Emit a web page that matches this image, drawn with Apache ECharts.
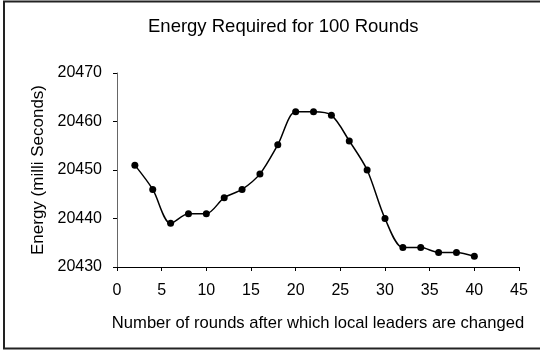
<!DOCTYPE html>
<html>
<head>
<meta charset="utf-8">
<script src="https://cdn.jsdelivr.net/npm/echarts@6/dist/echarts.min.js"></script>
<style>
  html, body { margin: 0; padding: 0; background: #fff; }
  #chart { width: 540px; height: 351px; }
</style>
</head>
<body>
<div id="chart"></div>
<script>
// rounds between leader changes
const rounds = [2, 4, 6, 8, 10, 12, 14, 16, 18, 20, 22, 24, 26, 28, 30, 32, 34, 36, 38, 40];
// energy for 100 rounds (milli seconds)
const energy = [20451, 20446, 20439, 20441, 20441, 20444.3, 20446, 20449.2, 20455.2, 20462,
                20462, 20461.3, 20456, 20450, 20440, 20434, 20434, 20433, 20433, 20432.2];
const xTicks = [0, 45, 5];      // min, max, interval
const yTicks = [20430, 20470, 10];

const font = "Liberation Sans, Arial, sans-serif";
const chart = echarts.init(document.getElementById("chart"));

chart.setOption({
  animation: false,
  title: {
    text: "Energy Required for 100 Rounds",
    left: 143,
    top: 12,
    textStyle: { fontFamily: font, fontSize: 18.5, fontWeight: "normal", color: "#000" }
  },
  graphic: [{
    type: "rect",
    shape: { x: 4, y: 1.5, width: 545, height: 347 },
    style: { fill: "none", stroke: "#222", lineWidth: 2 },
    silent: true
  }],
  grid: { left: 117, right: 21, top: 73, bottom: 84 },
  xAxis: {
    type: "value",
    min: xTicks[0],
    max: xTicks[1],
    interval: xTicks[2],
    name: "Number of rounds after which local leaders are changed",
    nameLocation: "middle",
    nameGap: 48,
    nameTextStyle: { fontFamily: font, fontSize: 16.6, color: "#000" },
    axisLine: { lineStyle: { color: "#000", width: 1 } },
    axisTick: { inside: false, length: 4, lineStyle: { color: "#000" } },
    axisLabel: { fontFamily: font, fontSize: 16, color: "#000", margin: 16 },
    splitLine: { show: false }
  },
  yAxis: {
    type: "value",
    min: yTicks[0],
    max: yTicks[1],
    interval: yTicks[2],
    name: "Energy (milli Seconds)",
    nameLocation: "middle",
    nameGap: 68,
    nameTextStyle: { fontFamily: font, fontSize: 17, color: "#000" },
    axisLine: { show: true, lineStyle: { color: "#666", width: 1 } },
    axisTick: { show: true, inside: false, length: 4, lineStyle: { color: "#000" } },
    axisLabel: {
      fontFamily: font, fontSize: 16, color: "#000", margin: 15,
      formatter: v => String(v)
    },
    splitLine: { show: false }
  },
  series: [{
    type: "line",
    data: rounds.map((r, i) => [r, energy[i]]),
    smooth: 0.3,
    symbol: "circle",
    symbolSize: 7,
    itemStyle: { color: "#000" },
    lineStyle: { color: "#000", width: 1.5 }
  }]
});
</script>
</body>
</html>
